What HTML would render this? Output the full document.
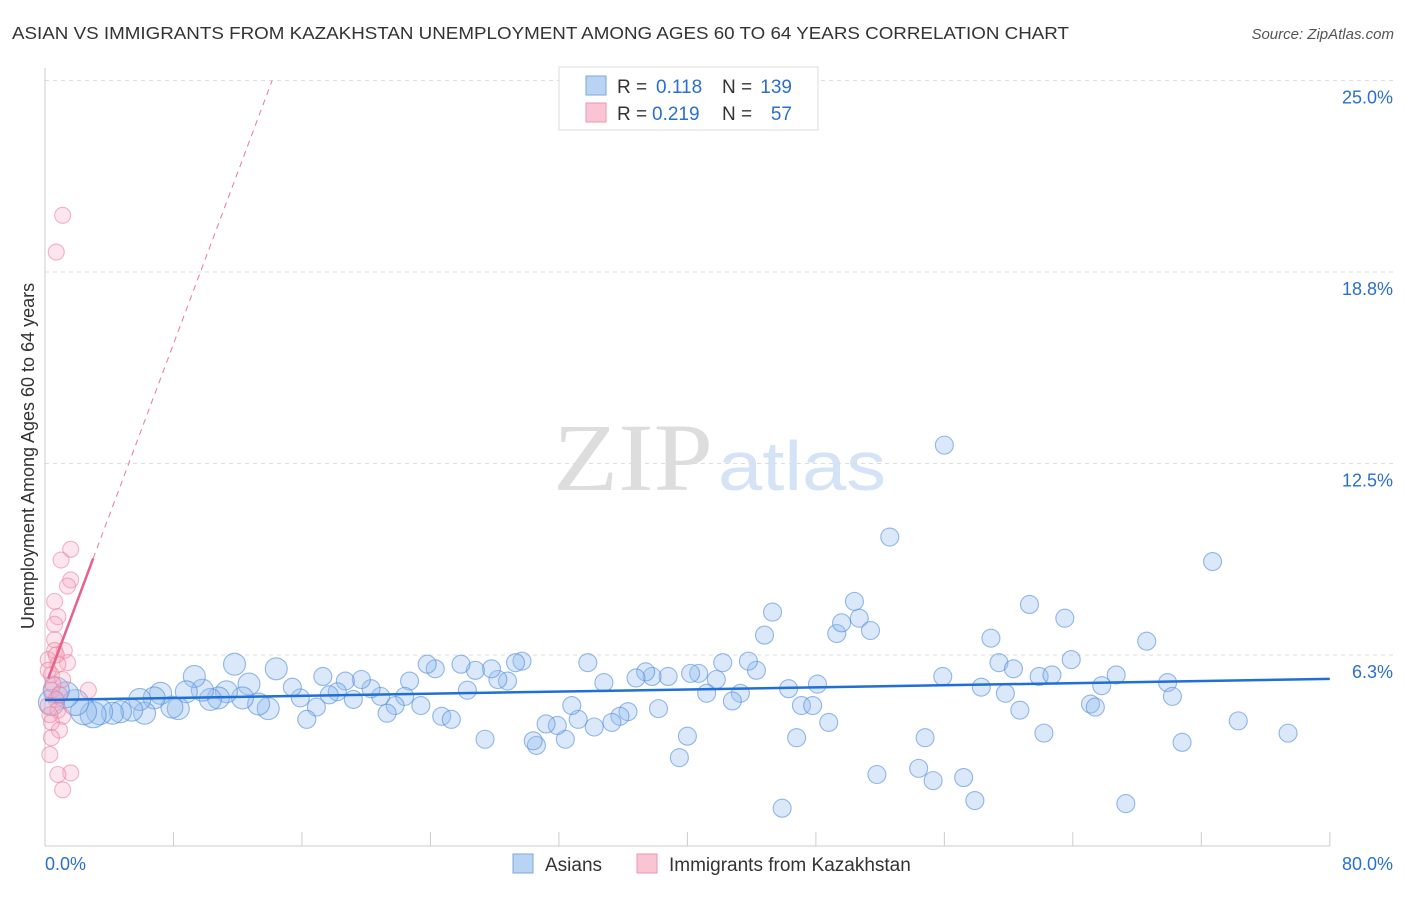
<!DOCTYPE html>
<html><head><meta charset="utf-8"><style>
body{margin:0;background:#fff;font-family:"Liberation Sans",sans-serif}
</style></head><body>
<svg id="c" width="1406" height="892" xmlns="http://www.w3.org/2000/svg">
<text x="12" y="39" font-size="17.5" fill="#333" textLength="1057" lengthAdjust="spacingAndGlyphs">ASIAN VS IMMIGRANTS FROM KAZAKHSTAN UNEMPLOYMENT AMONG AGES 60 TO 64 YEARS CORRELATION CHART</text>
<text x="1394" y="39" font-size="15" fill="#555" font-style="italic" text-anchor="end">Source: ZipAtlas.com</text>
<text x="553" y="490" font-size="96" fill="#ddd" font-family="Liberation Serif" textLength="160" lengthAdjust="spacingAndGlyphs">ZIP</text>
<text x="718" y="490" font-size="70" fill="#d4e3f5" textLength="168" lengthAdjust="spacingAndGlyphs">atlas</text>
<text transform="translate(34,456) rotate(-90)" font-size="18" fill="#333" text-anchor="middle">Unemployment Among Ages 60 to 64 years</text>
<g id="grid"></g><g id="pts"></g><g id="trend"></g>
<g>
<rect x="559" y="67" width="259" height="63" fill="#fff" stroke="#ddd"/>
<rect x="586" y="76" width="20" height="19" fill="#b9d3f3" stroke="#7aa7e0"/>
<rect x="586" y="103" width="20" height="19" fill="#f9c4d4" stroke="#ee95b1"/>
<text x="617" y="93" font-size="19" fill="#333">R =</text><text x="656" y="93" font-size="19" fill="#2a6fd0">0.118</text>
<text x="722" y="93" font-size="19" fill="#333">N =</text><text x="792" y="93" font-size="19" fill="#2a6fd0" text-anchor="end">139</text>
<text x="617" y="120" font-size="19" fill="#333">R =</text><text x="652" y="120" font-size="19" fill="#2a6fd0">0.219</text>
<text x="722" y="120" font-size="19" fill="#333">N =</text><text x="792" y="120" font-size="19" fill="#2a6fd0" text-anchor="end">57</text>
</g>
<g>
<rect x="513" y="854" width="20" height="19" fill="#b9d3f3" stroke="#7aa7e0"/>
<text x="545" y="871" font-size="19" fill="#333">Asians</text>
<rect x="637" y="854" width="20" height="19" fill="#f9c4d4" stroke="#ee95b1"/>
<text x="669" y="871" font-size="19" fill="#333">Immigrants from Kazakhstan</text>
</g>
</svg>
<script>
const yTicks=[25.0,18.8,12.5,6.3];
const yTickVals=[25,18.75,12.5,6.25];
const xTickLabels=["0.0%","80.0%"];
const asiansX=[56.0,52.6,72.7,45.3,50.4,44.8,49.3,49.6,50.7,51.4,61.3,63.5,58.9,68.6,63.9,59.4,60.3,61.9,62.7,66.7,65.8,69.9,70.2,55.9,58.3,59.8,60.7,65.1,65.4,62.2,70.8,74.3,77.4,67.3,57.9,57.2,55.3,54.4,54.8,51.8,45.9,46.8,48.8,47.1,47.8,48.1,46.3,43.3,42.8,44.3,43.8,42.2,41.8,41.2,40.7,40.2,38.8,37.8,37.4,36.8,38.2,40.0,39.5,34.8,33.8,36.3,35.8,35.3,34.2,33.2,32.8,32.4,31.9,31.2,30.6,30.4,29.7,29.3,28.8,28.2,27.8,26.8,25.9,26.3,24.3,23.8,22.7,22.4,21.8,21.3,23.4,24.7,25.3,27.4,20.9,20.3,19.7,19.2,18.7,18.2,17.7,17.3,16.9,16.3,15.9,15.4,14.4,13.9,13.3,12.7,12.3,11.8,11.3,10.8,10.3,9.8,9.3,8.8,8.3,7.9,7.2,6.8,6.2,5.9,5.4,4.7,4.2,3.4,3.0,2.4,1.9,1.3,0.7,0.4];
const asiansY=[13.1,10.1,9.3,7.65,8.0,6.9,6.95,7.3,7.45,7.05,7.9,7.45,6.8,6.7,6.1,6.0,5.8,5.55,5.6,5.6,5.25,5.35,4.9,5.55,5.2,5.0,4.45,4.65,4.55,3.7,3.4,4.1,3.7,1.4,1.5,2.25,2.15,2.55,3.55,2.35,1.25,3.55,4.05,4.6,4.6,5.3,5.15,5.0,4.75,5.75,6.05,6.0,5.45,5.0,5.65,5.65,5.55,5.55,5.7,5.5,4.5,3.6,2.9,5.35,6.0,4.4,4.25,4.05,3.9,4.15,4.6,3.5,3.95,4.0,3.3,3.45,6.05,6.0,5.4,5.45,5.8,5.75,5.95,5.1,5.8,5.95,5.4,4.9,4.6,4.35,4.6,4.25,4.15,3.5,4.9,5.15,5.45,4.8,5.4,5.05,4.95,5.55,4.55,4.15,4.85,5.2,5.8,4.5,4.65,5.3,4.85,5.95,5.05,4.85,4.8,5.1,5.55,5.05,4.5,4.55,5.0,4.85,4.35,4.8,4.45,4.4,4.35,4.4,4.3,4.4,4.7,4.95,5.1,4.7];
const kazX=[1.1,0.7,1.6,1.0,1.6,1.4,0.6,0.8,0.6,0.6,0.6,1.2,1.4,0.2,0.8,0.4,1.1,2.7,0.4,0.7,0.2,0.8,1.1,0.4,0.9,0.4,0.3,1.6,0.8,1.1,0.5,0.2,0.7,0.9,0.3];
const kazY=[20.6,19.4,9.7,9.35,8.7,8.5,8.0,7.5,7.25,6.75,6.4,6.4,6.0,6.1,5.95,5.6,5.45,5.1,5.1,4.8,4.6,4.45,4.25,4.05,3.8,3.55,3.0,2.4,2.35,1.85,5.3,5.75,6.25,4.95,4.3];
const blueTrend=[4.78,5.47];
const pinkTrend=[5.2,1.4];
const X=v=>45+v*16.06, Y=v=>846.5-v*30.64;
const NS="http://www.w3.org/2000/svg";
function mk(t,a,p){const e=document.createElementNS(NS,t);for(const k in a)e.setAttribute(k,a[k]);p.appendChild(e);return e;}
const g=document.getElementById('grid');
yTickVals.forEach((v,i)=>{
 const l=mk('line',{x1:45,x2:1394,y1:Y(v),y2:Y(v),stroke:'#ddd','stroke-dasharray':'4,4'},g);
 
 
 const t=mk('text',{x:1393,y:Y(v)+23,'font-size':18,fill:'#2a6fd0','text-anchor':'end'},g);
 t.textContent=yTicks[i].toFixed(1)+'%';
 
 
});
mk('line',{x1:45,x2:45,y1:68,y2:846,stroke:'#ccc'},g);
mk('line',{x1:45,x2:1330,y1:846,y2:846,stroke:'#ccc'},g);
for(let i=0;i<=10;i++){const x=X(i*8);const l=mk('line',{x1:x,x2:x,y1:832,y2:846,stroke:'#ccc'},g);}
const t0=mk('text',{x:45,y:870,'font-size':18,fill:'#2a6fd0'},g);t0.textContent=xTickLabels[0];


const t1=mk('text',{x:1393,y:870,'font-size':18,fill:'#2a6fd0','text-anchor':'end'},g);t1.textContent=xTickLabels[1];


const p=document.getElementById('pts');
asiansX.forEach((x,i)=>{const r=x<4?13:(x<15?11:9);const c=mk('circle',{cx:X(x),cy:Y(asiansY[i]),r:r,fill:'rgba(150,190,238,0.35)',stroke:'rgba(80,140,220,0.6)','stroke-width':1.1},p);
 
 });
kazX.forEach((x,i)=>{const c=mk('circle',{cx:X(x),cy:Y(kazY[i]),r:8,fill:'rgba(245,170,195,0.3)',stroke:'rgba(235,120,155,0.55)','stroke-width':1.1},p);
 
 });
const tr=document.getElementById('trend');
const b=mk('line',{x1:X(0),y1:Y(blueTrend[0]),x2:X(80),y2:Y(blueTrend[1]),stroke:'#1f6fd6','stroke-width':2.5},tr);


const xe=(25-pinkTrend[0])/pinkTrend[1];
const d=mk('line',{x1:X(3),y1:Y(pinkTrend[0]+3*pinkTrend[1]),x2:X(xe),y2:Y(25),stroke:'#e8799c','stroke-width':1,'stroke-dasharray':'6,5'},tr);


const s=mk('line',{x1:X(0.2),y1:Y(pinkTrend[0]+0.2*pinkTrend[1]),x2:X(3),y2:Y(pinkTrend[0]+3*pinkTrend[1]),stroke:'#e8608c','stroke-width':2.5},tr);


</script>
</body></html>
